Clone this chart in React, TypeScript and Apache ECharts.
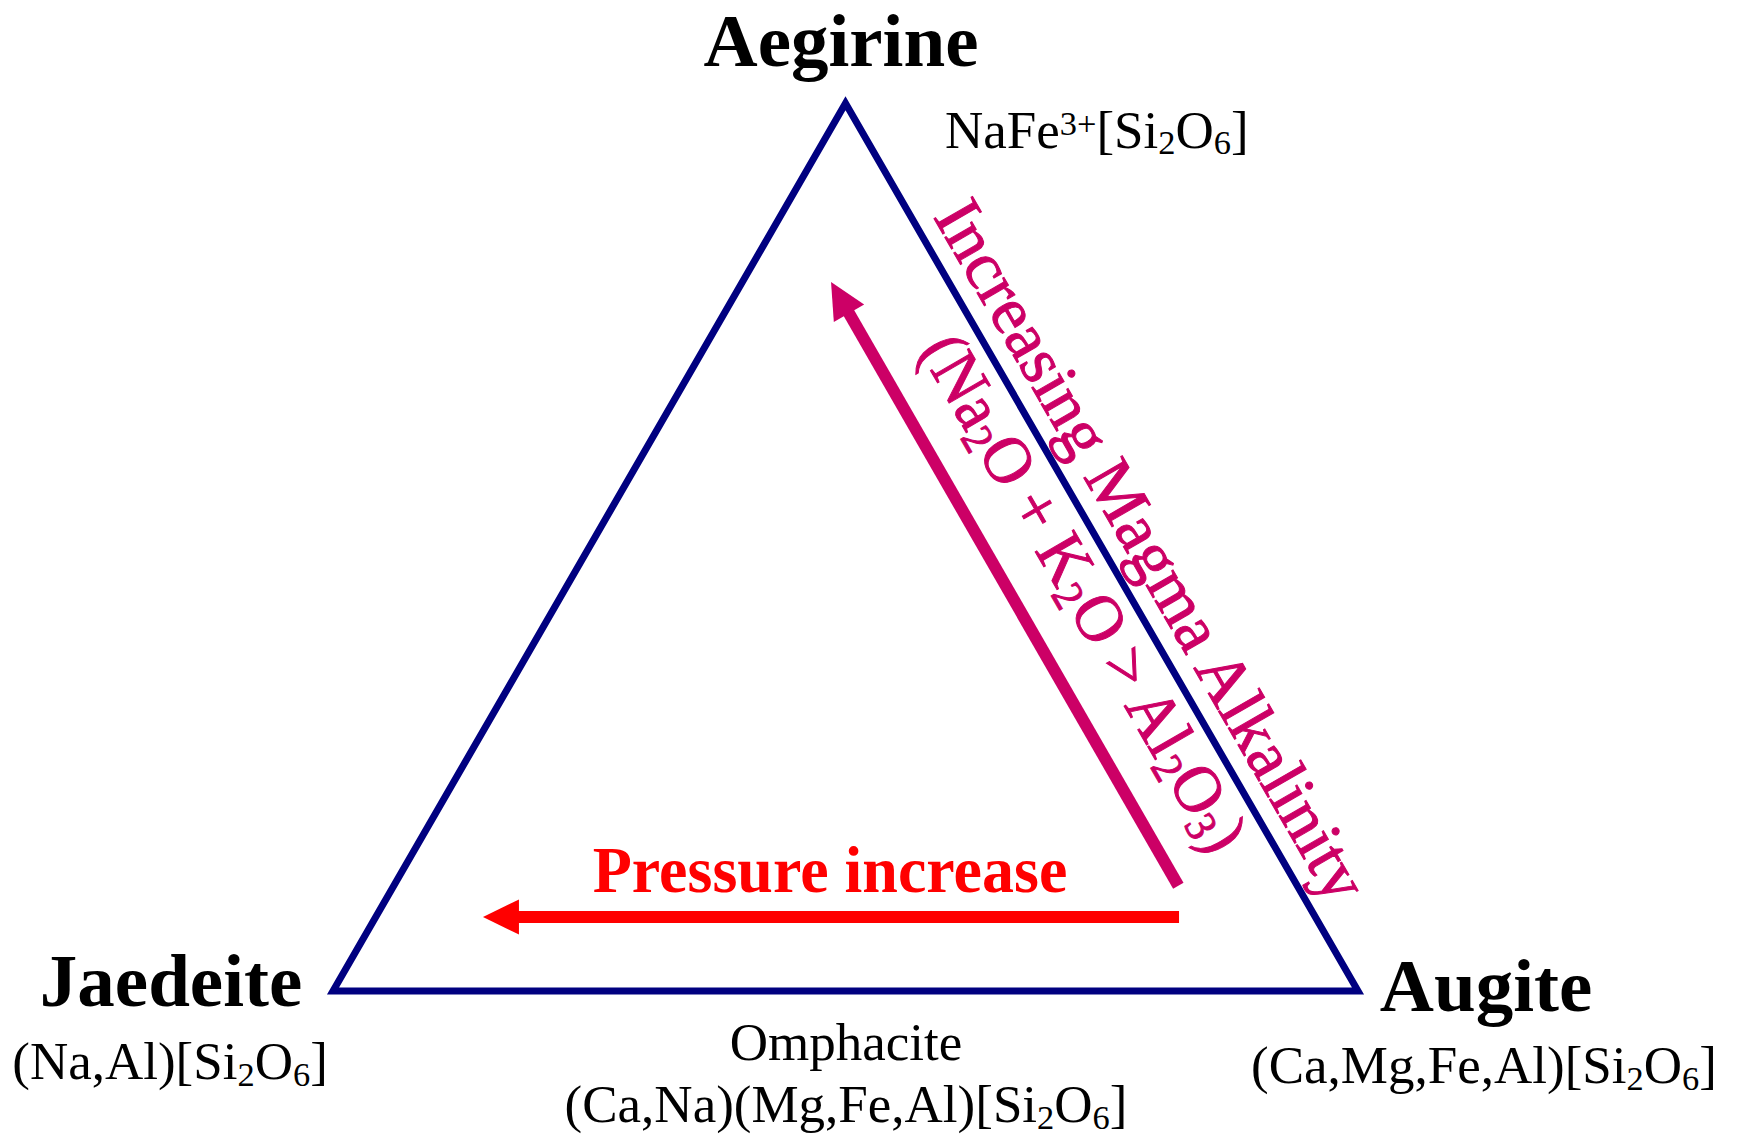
import React, { useEffect, useRef } from "react";
import * as echarts from "echarts";

const FONT = '"Liberation Serif", "Times New Roman", Times, serif';

// End-members of the pyroxene ternary (unit equilateral frame): Jaedeite, Augite, Aegirine
const vertexX = [0, 1, 0.5];
const vertexY = [0, 0, 0.866];

// Trend arrows (from -> to) in the same frame
const arrowFromX = [0.8254, 0.8247];
const arrowFromY = [0.0722, 0.1026];
const arrowToX = [0.1463, 0.4859];
const arrowToY = [0.0722, 0.6917];

// Labels (rich text markup: n = normal, sub = subscript, sup = superscript)
const labelTexts = [
  "{n|Aegirine}",
  "{n|NaFe}{sup|3+}{n|[Si}{sub|2}{n|O}{sub|6}{n|]}",
  "{n|Jaedeite}",
  "{n|(Na,Al)[Si}{sub|2}{n|O}{sub|6}{n|]}",
  "{n|Augite}",
  "{n|(Ca,Mg,Fe,Al)[Si}{sub|2}{n|O}{sub|6}{n|]}",
  "{n|Omphacite}",
  "{n|(Ca,Na)(Mg,Fe,Al)[Si}{sub|2}{n|O}{sub|6}{n|]}",
  "{n|Pressure increase}",
  "{n|Increasing Magma Alkalinity}",
  "{n|(Na}{sub|2}{n|O + K}{sub|2}{n|O > Al}{sub|2}{n|O}{sub|3}{n|)}",
];
const labelX = [0.4956, 0.5971, -0.158, -0.159, 1.1249, 1.1229, 0.5005, 0.5005, 0.4849, 0.7989, 0.7337];
const labelY = [0.9271, 0.8404, 0.01, -0.0684, 0.0052, -0.0723, -0.0499, -0.1103, 0.1183, 0.4303, 0.3892];

// Styles (kept apart from the data)
const labelStyle = [
  { size: 75, weight: "bold", color: "#000000", align: "center", rot: 0, sx: 1, sw: 0 },
  { size: 53, weight: "normal", color: "#000000", align: "left", rot: 0, sx: 1, sw: 0 },
  { size: 75, weight: "bold", color: "#000000", align: "center", rot: 0, sx: 1, sw: 0 },
  { size: 53, weight: "normal", color: "#000000", align: "center", rot: 0, sx: 1, sw: 0 },
  { size: 75, weight: "bold", color: "#000000", align: "center", rot: 0, sx: 1, sw: 0 },
  { size: 53, weight: "normal", color: "#000000", align: "center", rot: 0, sx: 1, sw: 0 },
  { size: 53, weight: "normal", color: "#000000", align: "center", rot: 0, sx: 1, sw: 0 },
  { size: 53, weight: "normal", color: "#000000", align: "center", rot: 0, sx: 1, sw: 0 },
  { size: 66, weight: "bold", color: "#FF0000", align: "center", rot: 0, sx: 0.97, sw: 0 },
  { size: 68, weight: "normal", color: "#CC0066", align: "center", rot: -60, sx: 1, sw: 1 },
  { size: 68, weight: "normal", color: "#CC0066", align: "center", rot: -60, sx: 0.94, sw: 1 },
];
const arrowColors = ["#FF0000", "#CC0066"];
const TRI_COLOR = "#000080";

function makeRich(fs: number, weight: string, color: string, sw: number) {
  const H = 1.2 * fs;
  const small = 0.65 * fs;
  const Ls = 0.723 * fs;
  const Lp = 0.937 * fs;
  const stroke = sw > 0 ? { stroke: color, lineWidth: sw } : {};
  return {
    n: { fontSize: fs, fontFamily: FONT, fontWeight: weight, fill: color, lineHeight: H, height: H, ...stroke },
    sub: {
      fontSize: small, fontFamily: FONT, fontWeight: weight, fill: color,
      lineHeight: Ls, height: Ls, verticalAlign: "bottom", ...stroke,
    },
    sup: {
      fontSize: small, fontFamily: FONT, fontWeight: weight, fill: color,
      lineHeight: Lp, height: Lp, verticalAlign: "top", ...stroke,
    },
  };
}

export default function App() {
  const ref = useRef<HTMLDivElement>(null);
  useEffect(() => {
    if (!ref.current) return;
    const chart = echarts.init(ref.current, null, { renderer: "svg" });
    const W = 1739, Hh = 1137;
    const ox = 333, oy = 991, unit = 1025;
    const option: any = {
      animation: false,
      backgroundColor: "#ffffff",
      grid: { left: 0, right: 0, top: 0, bottom: 0 },
      xAxis: { type: "value", min: -ox / unit, max: (W - ox) / unit, show: false },
      yAxis: { type: "value", min: -(Hh - oy) / unit, max: oy / unit, show: false },
      series: [
        {
          type: "custom",
          name: "triangle",
          data: [[vertexX[0], vertexY[0]]],
          renderItem: (_params: any, api: any) => {
            const pts = vertexX.map((x, i) => api.coord([x, vertexY[i]]));
            return {
              type: "polygon",
              shape: { points: pts },
              style: { fill: "none", stroke: TRI_COLOR, lineWidth: 7, lineJoin: "miter", miterLimit: 10 },
            };
          },
        },
        {
          type: "custom",
          name: "arrows",
          data: arrowFromX.map((x, i) => [x, arrowFromY[i], arrowToX[i], arrowToY[i]]),
          renderItem: (params: any, api: any) => {
            const i = params.dataIndex;
            const a = api.coord([api.value(0), api.value(1)]);
            const b = api.coord([api.value(2), api.value(3)]);
            const dx = b[0] - a[0], dy = b[1] - a[1];
            const len = Math.hypot(dx, dy);
            const ux = dx / len, uy = dy / len;
            const hl = 36, hw = 17.5;
            const bx = b[0] - ux * hl, by = b[1] - uy * hl;
            const nx = -uy, ny = ux;
            const color = arrowColors[i];
            return {
              type: "group",
              children: [
                {
                  type: "line",
                  shape: { x1: a[0], y1: a[1], x2: bx + ux * 2, y2: by + uy * 2 },
                  style: { stroke: color, lineWidth: 12, lineCap: "butt" },
                },
                {
                  type: "polygon",
                  shape: { points: [[b[0], b[1]], [bx + nx * hw, by + ny * hw], [bx - nx * hw, by - ny * hw]] },
                  style: { fill: color },
                },
              ],
            };
          },
        },
        {
          type: "custom",
          name: "labels",
          data: labelX.map((x, i) => [x, labelY[i]]),
          renderItem: (params: any, api: any) => {
            const i = params.dataIndex;
            const p = api.coord([api.value(0), api.value(1)]);
            const s = labelStyle[i];
            return {
              type: "text",
              x: p[0],
              y: p[1],
              scaleX: s.sx,
              rotation: (s.rot * Math.PI) / 180,
              style: {
                text: labelTexts[i],
                rich: makeRich(s.size, s.weight, s.color, s.sw),
                fill: s.color,
                fontSize: s.size,
                fontFamily: FONT,
                fontWeight: s.weight,
                align: s.align,
                verticalAlign: "middle",
              },
            };
          },
        },
      ],
    };
    chart.setOption(option);
    return () => chart.dispose();
  }, []);
  return (
    <div
      ref={ref}
      style={{ position: "absolute", left: 0, top: 0, width: 1739, height: 1137, background: "#fff" }}
    />
  );
}
